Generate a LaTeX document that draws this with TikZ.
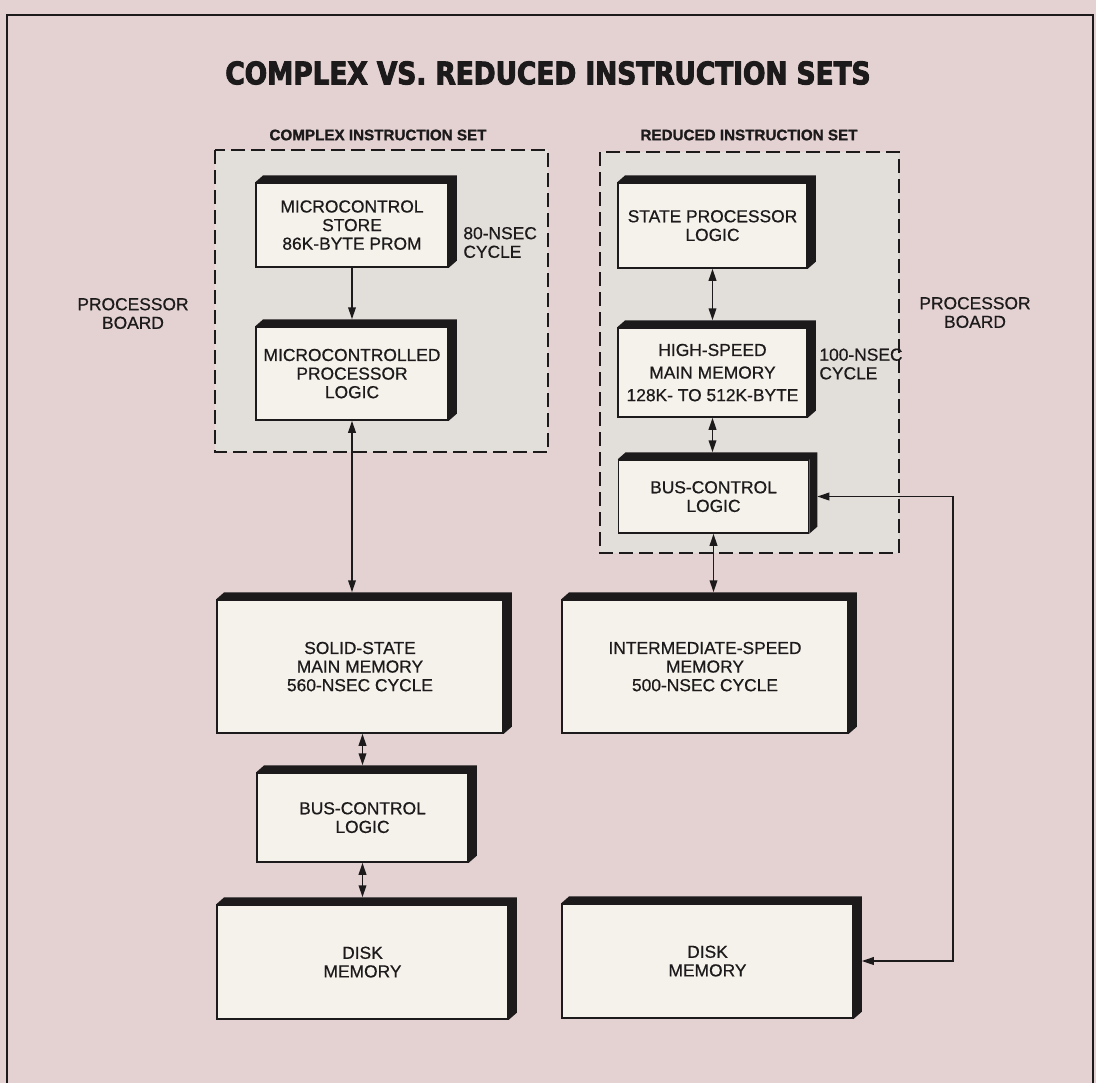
\documentclass[tikz,border=0pt]{standalone}
\usepackage{fontspec}
\setmainfont{Liberation Sans}[UprightFeatures={FakeBold=0.6}, BoldFeatures={FakeBold=1.2}]
\newfontfamily\titlefont{DejaVu Sans}[FakeStretch=0.85, BoldFeatures={FakeBold=3}]
\usetikzlibrary{arrows.meta,calc}
\definecolor{bgpink}{RGB}{228,210,211}
\definecolor{panel}{RGB}{226,222,218}
\definecolor{boxfill}{RGB}{245,242,236}
\definecolor{ink}{RGB}{28,26,26}
\newcommand\bodyfont{\fontsize{8.7}{9.3}\selectfont}
\newcommand\hdrfont{\fontsize{7.6}{9}\selectfont\bfseries}
\newcommand\solidback[1]{\fill[ink] (#1.north west) -- ++(8,-7) -- ($(#1.north east)+(8,-7)$) -- ($(#1.south east)+(8,-7)$) -- (#1.south east) -- (#1.north east) -- cycle;}
\tikzset{
  blk/.style={draw=ink, line width=0.75pt, fill=boxfill, inner sep=0pt, align=center, font=\bodyfont, text=ink, text depth=-3pt},
  panelbox/.style={draw=ink, line width=0.85pt, fill=panel, dash pattern=on 7pt off 3pt},
  link/.style={draw=ink, line width=0.85pt, {Triangle[length=6pt,width=3.8pt]}-{Triangle[length=6pt,width=3.8pt]}},
  onelink/.style={draw=ink, line width=0.85pt, -{Triangle[length=6pt,width=3.8pt]}},
  lbl/.style={font=\bodyfont, text=ink, align=center, inner sep=0pt},
  hdr/.style={font=\hdrfont, text=ink, inner sep=0pt},
}
\begin{document}
\begin{tikzpicture}[x=0.5pt,y=-0.5pt]
\useasboundingbox (0,0) rectangle (1096,1083);
\fill[bgpink] (0,0) rectangle (1096,1083);
\draw[ink, line width=1pt] (7,1083) -- (7,15) -- (1093,15) -- (1093,1083);

\node[text=ink, inner sep=0pt, font=\titlefont\bfseries\fontsize{15.5}{18}\selectfont] (title) at (548,73) {COMPLEX VS. REDUCED INSTRUCTION SETS};

\node[hdr] (hc) at (378,135) {COMPLEX INSTRUCTION SET};
\node[hdr] (hr) at (749,135) {REDUCED INSTRUCTION SET};

\draw[panelbox] (215,150) rectangle (548,452);
\draw[panelbox] (600,152) rectangle (899,553);

\node[lbl] (pbl) at (133,313.5) {PROCESSOR\\BOARD};
\node[lbl] (pbr) at (975,312.5) {PROCESSOR\\BOARD};
\node[lbl, anchor=west, align=left] (c80) at (463,242.5) {80-NSEC\\CYCLE};
\node[lbl, anchor=west, align=left] (c100) at (819,364) {100-NSEC\\CYCLE};

% left column
\node[blk, minimum width=96pt, minimum height=42pt] (mcs) at (352,225) {MICROCONTROL\\STORE\\86K-BYTE PROM};
\node[blk, minimum width=96pt, minimum height=46.5pt] (mcp) at (352,373.5) {MICROCONTROLLED\\PROCESSOR\\LOGIC};
\node[blk, minimum width=143pt, minimum height=66.5pt] (ssm) at (360,666.5) {SOLID-STATE\\MAIN MEMORY\\560-NSEC CYCLE};
\node[blk, minimum width=105.5pt, minimum height=44.5pt] (bcl) at (362.5,817.5) {BUS-CONTROL\\LOGIC};
\node[blk, minimum width=145.5pt, minimum height=57pt] (dkl) at (362.5,962) {DISK\\MEMORY};

% right column
\node[blk, minimum width=94.5pt, minimum height=42.5pt] (spl) at (712.5,225.5) {STATE PROCESSOR\\LOGIC};
\node[blk, minimum width=94.5pt, minimum height=44.5pt] (hsm) at (712.5,372.5) {HIGH-SPEED\\[2pt]MAIN MEMORY\\[2pt]128K- TO 512K-BYTE};
\node[blk, minimum width=95pt, minimum height=36.5pt] (bcr) at (713.5,496.5) {BUS-CONTROL\\LOGIC};
\node[blk, minimum width=143pt, minimum height=66.5pt] (ism) at (705,666.5) {INTERMEDIATE-SPEED\\MEMORY\\500-NSEC CYCLE};
\node[blk, minimum width=145.5pt, minimum height=57pt] (dkr) at (707.5,961) {DISK\\MEMORY};

\foreach \b in {mcs,mcp,ssm,bcl,dkl,spl,hsm,bcr,ism,dkr}{\solidback{\b}}

% connectors
\draw[onelink] (mcs.south) -- ($(mcs.south |- mcp.north)+(0,-7)$);
\draw[link] (mcp.south) -- ($(mcp.south |- ssm.north)+(0,-7)$);
\draw[link] (ssm.south -| bcl.north) -- ($(bcl.north)+(0,-7)$);
\draw[link] (bcl.south) -- ($(bcl.south |- dkl.north)+(0,-7)$);
\draw[link] (spl.south) -- ($(spl.south |- hsm.north)+(0,-7)$);
\draw[link] (hsm.south) -- ($(hsm.south |- bcr.north)+(0,-7)$);
\draw[link] (bcr.south) -- ($(bcr.south |- ism.north)+(0,-7)$);
\draw[link] ($(bcr.east)+(8,0)$) -- ++(136,0) |- ($(dkr.east)+(8,0)$);
\end{tikzpicture}
\end{document}
